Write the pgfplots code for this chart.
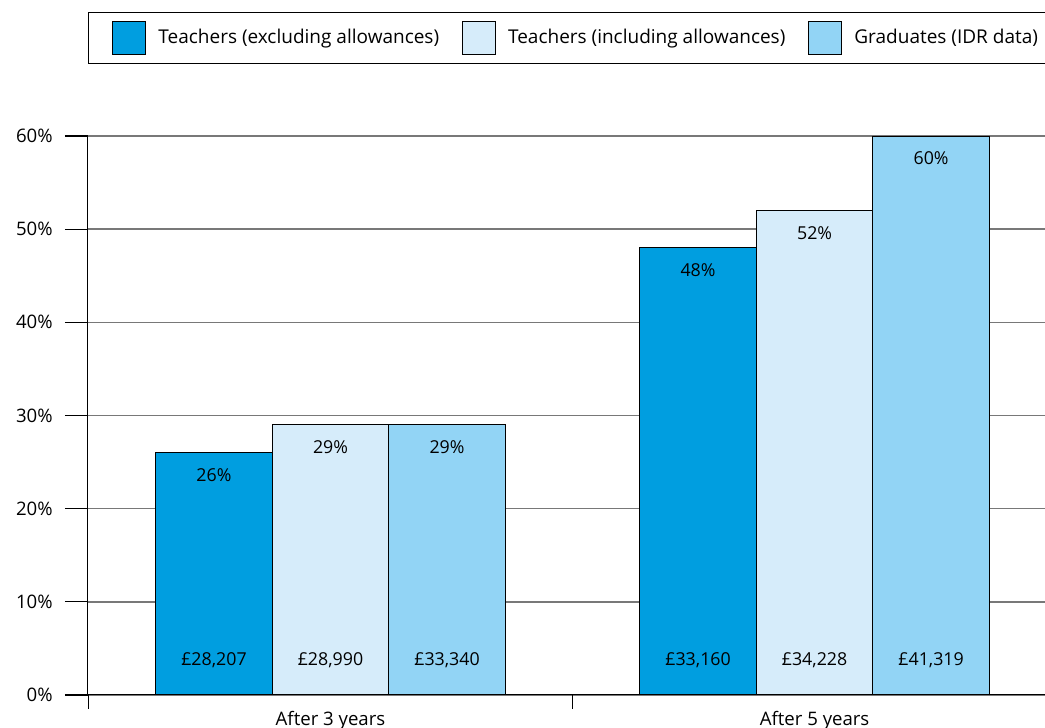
\documentclass[border=0pt]{standalone}
\usepackage{fontspec}
\setmainfont{Open Sans}
\usepackage{pgfplots}
\pgfplotsset{compat=1.18}
\definecolor{tdark}{RGB}{0,158,224}
\definecolor{tlight}{RGB}{214,236,250}
\definecolor{tmid}{RGB}{146,212,245}
\definecolor{gridgray}{RGB}{120,120,120}

\pgfplotsset{
  sqleg/.style={legend image code/.code={%
    \draw[##1, line width=0.5pt] (0pt,-8.25pt) rectangle (16.5pt,8.25pt);}},
  barlab/.style={draw=none, mark=none, forget plot,
    nodes near coords, point meta=explicit symbolic,
    every node near coord/.append style={anchor=center, inner sep=0pt,
      text=black, font=\fontsize{8.9}{10}\selectfont}},
}

\begin{document}
\begin{tikzpicture}
\begin{axis}[
  at={(0,0)}, anchor=south west,
  scale only axis, width=478.5pt, height=279.5pt,
  xmin=-0.501, xmax=1.476, ymin=0, ymax=60,
  axis x line=bottom, axis y line=left,
  axis line style={-, line width=0.5pt},
  clip=false,
  ytick={0,10,...,60},
  yticklabels={0\%,10\%,20\%,30\%,40\%,50\%,60\%},
  ymajorgrids, grid style={gridgray, line width=0.7pt},
  tick align=outside, major tick length=11.5pt,
  tick style={black, line width=0.6pt},
  xtick={0,1}, xticklabels={After 3 years, After 5 years},
  xtick style={draw=none},
  extra x ticks={-0.5,0.5}, extra x tick labels={},
  extra x tick style={xtick style={draw=black}, major tick length=7pt},
  ticklabel style={font=\fontsize{9.3}{10}\selectfont, text=black},
  yticklabel style={inner sep=0pt, xshift=-6pt},
  xticklabel style={inner sep=0pt, yshift=3.5pt},
  legend columns=3,
  legend style={at={(0,1)}, anchor=south west, yshift=36pt,
    draw=black, line width=0.5pt, inner xsep=12pt, inner ysep=4.25pt,
    font=\fontsize{9.5}{10}\selectfont,
    nodes={inner sep=0pt},
    column sep=6pt,
    /tikz/every even column/.append style={column sep=11.5pt}},
]
\addplot[ybar, bar width=0.2407, bar shift=-0.2407, fill=tdark, draw=black, line width=0.5pt, sqleg]
  coordinates {(0,26) (1,48)};
\addplot[ybar, bar width=0.2407, bar shift=0, fill=tlight, draw=black, line width=0.5pt, sqleg]
  coordinates {(0,29) (1,52)};
\addplot[ybar, bar width=0.2407, bar shift=0.2407, fill=tmid, draw=black, line width=0.5pt, sqleg]
  coordinates {(0,29) (1,60)};

% percentage labels near the top of each bar
\addplot[barlab] coordinates {
  (-0.2407,23.6) [26\%] (0,26.6) [29\%] (0.2407,26.6) [29\%]
  (0.7593,45.6) [48\%] (1,49.6) [52\%] (1.2407,57.6) [60\%]
};
% salary labels near the base of each bar
\addplot[barlab] coordinates {
  (-0.2407,3.76) [{£28,207}] (0,3.76) [{£28,990}] (0.2407,3.76) [{£33,340}]
  (0.7593,3.76) [{£33,160}] (1,3.76) [{£34,228}] (1.2407,3.76) [{£41,319}]
};
\legend{Teachers (excluding allowances), Teachers (including allowances), Graduates (IDR data)}
\end{axis}
\pgfresetboundingbox
\useasboundingbox (-44pt,-16.5pt) rectangle (478.5pt,347.5pt);
\end{tikzpicture}
\end{document}
